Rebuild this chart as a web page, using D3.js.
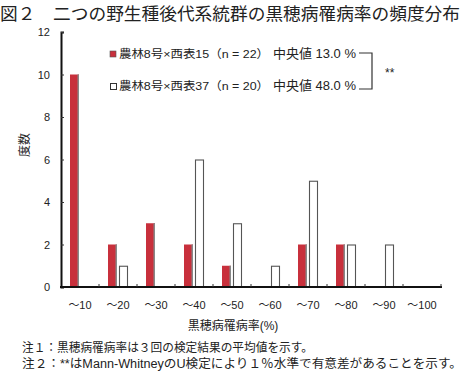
<!DOCTYPE html>
<html><head><meta charset="utf-8">
<script src="https://cdn.jsdelivr.net/npm/d3@7"></script>
<style>body{margin:0;background:#fff}svg{display:block}text{font-family:"Liberation Sans","Noto Sans CJK JP",sans-serif;fill:#222}</style>
</head><body>
<script>
const categories = ["～10","～20","～30","～40","～50","～60","～70","～80","～90","～100"];
const seriesNames = ["農林8号×西表15（n = 22）","農林8号×西表37（n = 20）"];
const medians = ["中央値 13.0 %","中央値 48.0 %"];
const redValues = [10,2,3,2,1,0,2,2,0,0];
const whiteValues = [0,1,0,6,3,1,5,2,2,0];
const yTicks = [0,2,4,6,8,10,12];
const title = "図２　二つの野生種後代系統群の黒穂病罹病率の頻度分布";
const xLabel = "黒穂病罹病率(%)";
const yLabel = "度数";
const notes = ["注１：黒穂病罹病率は３回の検定結果の平均値を示す。","注２：**はMann-WhitneyのU検定により１％水準で有意差があることを示す。"];

const W=463,H=371;
const svg=d3.select("body").append("svg").attr("width",W).attr("height",H);
const m={l:61,r:441,t:32,b:287};
const x=d3.scaleBand().domain(categories).range([m.l,m.r]).paddingInner(0).paddingOuter(0);
const y=d3.scaleLinear().domain([0,12]).range([m.b,m.t]);
const bw=9, off1=9, off2=20;

// title
svg.append("text").attr("x",0).attr("y",20).attr("font-size",17.3).attr("textLength",460).attr("lengthAdjust","spacingAndGlyphs").text(title);

// bars
const g=svg.append("g");
categories.forEach((c,i)=>{
  const x0=x(c);
  if(redValues[i]>0){
    g.append("rect").attr("x",x0+off1).attr("y",y(redValues[i])).attr("width",bw).attr("height",y(0)-y(redValues[i])).attr("fill","#c8303c");
    g.append("rect").attr("x",x0+off1+bw-1.5).attr("y",y(redValues[i])).attr("width",1.5).attr("height",y(0)-y(redValues[i])).attr("fill","#888");
  }
  if(whiteValues[i]>0){
    g.append("rect").attr("x",x0+off2+0.5).attr("y",y(whiteValues[i])+0.5).attr("width",bw-1).attr("height",y(0)-y(whiteValues[i])-0.5).attr("fill","#fff").attr("stroke","#555").attr("stroke-width",1.1);
  }
});

// y axis
const ya=svg.append("g").attr("transform",`translate(${m.l},0)`).call(d3.axisLeft(y).tickValues(yTicks).tickSize(-3).tickPadding(11).tickFormat(d3.format("d")));
ya.select(".domain").attr("stroke","#111").attr("stroke-width",2);
ya.selectAll(".tick line").attr("stroke","#333");
ya.selectAll("text").attr("font-size",11).attr("fill","#222").style("font-family","Liberation Sans, sans-serif");

// x axis
const xa=svg.append("g").attr("transform",`translate(0,${m.b})`);
xa.append("line").attr("x1",m.l-1).attr("x2",m.r+1).attr("y1",0).attr("y2",0).attr("stroke","#111").attr("stroke-width",2);
const edges=categories.map(c=>x(c)+x.bandwidth()).concat([]);
xa.selectAll("line.t").data(edges).enter().append("line").attr("x1",d=>d).attr("x2",d=>d).attr("y1",0).attr("y2",-3).attr("stroke","#333");
xa.selectAll("text").data(categories).enter().append("text").attr("x",d=>x(d)+x.bandwidth()/2).attr("y",22).attr("text-anchor","middle").attr("font-size",11).text(d=>d);

svg.append("text").attr("x",233).attr("y",330).attr("text-anchor","middle").attr("font-size",12).text(xLabel);
svg.append("text").attr("transform","translate(29,145) rotate(-90)").attr("text-anchor","middle").attr("font-size",12).text(yLabel);

// legend
const ly=[58,90];
svg.append("rect").attr("x",110).attr("y",51).attr("width",6).attr("height",6).attr("fill","#c8303c").attr("stroke","#555").attr("stroke-width",0.6);
svg.append("rect").attr("x",110.5).attr("y",83.5).attr("width",6).attr("height",6).attr("fill","#fff").attr("stroke","#333").attr("stroke-width",1);
seriesNames.forEach((s,i)=>{
  svg.append("text").attr("x",119).attr("y",ly[i]).attr("font-size",11.5).attr("textLength",150).attr("lengthAdjust","spacingAndGlyphs").text(s);
  svg.append("text").attr("x",273).attr("y",ly[i]).attr("font-size",13).attr("textLength",83).attr("lengthAdjust","spacingAndGlyphs").text(medians[i]);
});
svg.append("path").attr("d","M359,53 H372 V89 H359").attr("fill","none").attr("stroke","#333").attr("stroke-width",1.2);
svg.append("text").attr("x",385).attr("y",77).attr("font-size",12).text("**");

// notes
svg.append("text").attr("x",22).attr("y",352).attr("font-size",12).attr("textLength",291).attr("lengthAdjust","spacingAndGlyphs").text(notes[0]);
svg.append("text").attr("x",22).attr("y",368).attr("font-size",12).attr("textLength",440).attr("lengthAdjust","spacingAndGlyphs").text(notes[1]);
</script>
</body></html>
